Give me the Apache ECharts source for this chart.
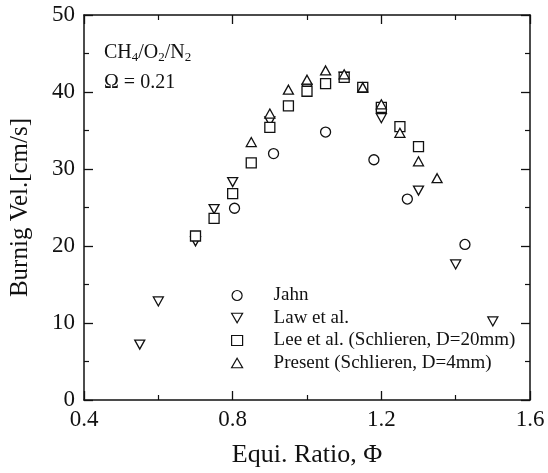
<!DOCTYPE html>
<html>
<head>
<meta charset="utf-8">
<script src="https://cdn.jsdelivr.net/npm/echarts@6/dist/echarts.min.js"></script>
<style>
  html, body { margin: 0; padding: 0; background: #fff; }
  #chart { width: 548px; height: 473px; }
</style>
</head>
<body>
<div id="chart"></div>
<script>
// Burning velocity of CH4/O2/N2 mixtures versus equivalence ratio
const seriesNames = [
  'Jahn',
  'Law et al.',
  'Lee et al. (Schlieren, D=20mm)',
  'Present (Schlieren, D=4mm)'
];

// [equivalence ratio, burning velocity cm/s]
const jahnData = [
  [0.805, 24.9], [0.91, 32.0], [1.05, 34.8], [1.18, 31.2], [1.27, 26.1], [1.425, 20.2]
];
const lawData = [
  [0.55, 7.2], [0.60, 12.8], [0.70, 20.6], [0.75, 24.8], [0.80, 28.3], [0.90, 36.2],
  [1.00, 40.4], [1.10, 42.0], [1.20, 36.6], [1.30, 27.2], [1.40, 17.6], [1.50, 10.2]
];
const leeData = [
  [0.70, 21.3], [0.75, 23.6], [0.80, 26.8], [0.85, 30.8], [0.90, 35.4], [0.95, 38.2],
  [1.00, 40.1], [1.05, 41.1], [1.10, 41.9], [1.15, 40.6], [1.20, 38.0], [1.25, 35.5], [1.30, 32.9]
];
const presentData = [
  [0.85, 33.5], [0.90, 37.2], [0.95, 40.3], [1.00, 41.6], [1.05, 42.8], [1.10, 42.3],
  [1.15, 40.6], [1.20, 38.4], [1.25, 34.7], [1.30, 31.0], [1.35, 28.8]
];

const xTicks = { min: 0.4, max: 1.6, interval: 0.4 };
const yTicks = { min: 0, max: 50, interval: 10 };

const FONT = '"Liberation Serif", "DejaVu Serif", serif';
const INK = '#111';

const downTri = 'path://M0,0 L10,0 L5,8.66 Z';
const upTri = 'path://M5,0 L10,8.66 L0,8.66 Z';

function scatter(name, data, symbol, size) {
  return {
    name: name,
    type: 'scatter',
    data: data,
    symbol: symbol,
    symbolSize: size,
    itemStyle: { color: '#fff', borderColor: INK, borderWidth: 1.3, opacity: 1 },
    emphasis: { disabled: true },
    z: 3
  };
}

function xAxisDef(pos, showLabels) {
  return {
    type: 'value', position: pos,
    min: xTicks.min, max: xTicks.max, interval: xTicks.interval,
    axisLine: { show: true, onZero: false, lineStyle: { color: INK, width: 1.5 } },
    axisTick: { show: true, inside: true, length: 9, lineStyle: { color: INK, width: 1.3 } },
    minorTick: { show: true, splitNumber: 2, length: 5, lineStyle: { color: INK, width: 1.2 } },
    splitLine: { show: false },
    axisLabel: {
      show: showLabels, color: INK, fontFamily: FONT, fontSize: 23, margin: 8,
      formatter: v => v.toFixed(1)
    },
    name: showLabels ? 'Equi. Ratio, Φ' : '',
    nameLocation: 'middle', nameGap: 42,
    nameTextStyle: { color: INK, fontFamily: FONT, fontSize: 26 }
  };
}

function yAxisDef(pos, showLabels) {
  return {
    type: 'value', position: pos,
    min: yTicks.min, max: yTicks.max, interval: yTicks.interval,
    axisLine: { show: true, onZero: false, lineStyle: { color: INK, width: 1.5 } },
    axisTick: { show: true, inside: true, length: 9, lineStyle: { color: INK, width: 1.3 } },
    minorTick: { show: true, splitNumber: 2, length: 5, lineStyle: { color: INK, width: 1.2 } },
    splitLine: { show: false },
    axisLabel: { show: showLabels, color: INK, fontFamily: FONT, fontSize: 23, margin: 9 },
    name: showLabels ? 'Burnig Vel.[cm/s]' : '',
    nameLocation: 'middle', nameGap: 51, nameRotate: 90,
    nameTextStyle: { color: INK, fontFamily: FONT, fontSize: 25 }
  };
}

const chart = echarts.init(document.getElementById('chart'), null, { renderer: 'canvas' });

chart.setOption({
  animation: false,
  backgroundColor: '#fff',
  grid: { left: 82, right: 18, top: 15, bottom: 71, containLabel: false },
  xAxis: [xAxisDef('bottom', true), xAxisDef('top', false)],
  yAxis: [yAxisDef('left', true), yAxisDef('right', false)],
  legend: {
    orient: 'vertical',
    left: 226, top: 281,
    itemWidth: 11, itemHeight: 10, itemGap: 3.5,
    data: seriesNames,
    itemStyle: { borderWidth: 1.2 },
    textStyle: { color: INK, fontFamily: FONT, fontSize: 19, lineHeight: 19, padding: [0, 0, 0, 26] },
    selectedMode: false
  },
  graphic: [
    {
      type: 'text', left: 104, top: 43,
      style: {
        text: 'CH{s|4}/O{s|2}/N{s|2}',
        fontFamily: FONT, fontSize: 20, fill: INK,
        rich: { s: { fontFamily: FONT, fontSize: 13, fill: INK, verticalAlign: 'bottom', padding: [9, 0, 0, 0] } }
      }
    },
    {
      type: 'text', left: 104, top: 73,
      style: { text: 'Ω = 0.21', fontFamily: FONT, fontSize: 20, fill: INK }
    }
  ],
  series: [
    scatter(seriesNames[0], jahnData, 'circle', 10),
    scatter(seriesNames[1], lawData, downTri, [10, 9]),
    scatter(seriesNames[2], leeData, 'rect', 10),
    scatter(seriesNames[3], presentData, upTri, [10, 9])
  ]
});
</script>
</body>
</html>
